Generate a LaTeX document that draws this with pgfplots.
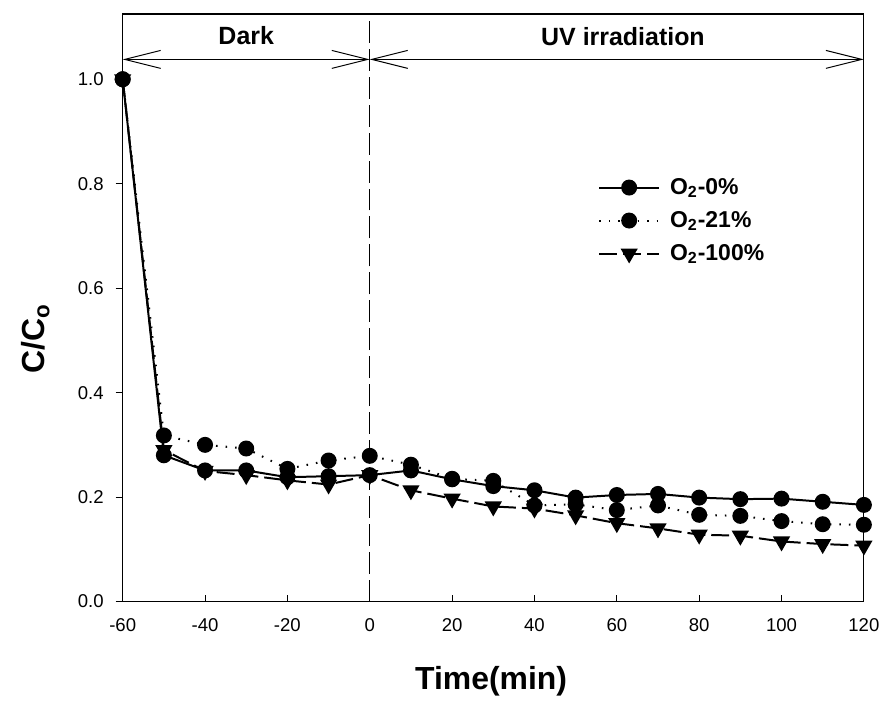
\documentclass[border=0pt]{standalone}
\usepackage{pgfplots}
\pgfplotsset{compat=1.18}
\usepackage{fontspec}
\setmainfont{Liberation Sans}
\usetikzlibrary{arrows.meta}

\pgfplotstableread{
t     c
-60   1.000
-50   0.280
-40   0.251
-30   0.251
-20   0.238
-10   0.240
0     0.242
10    0.251
20    0.234
30    0.221
40    0.213
50    0.199
60    0.204
70    0.206
80    0.199
90    0.196
100   0.197
110   0.191
120   0.185
}\oxzero

\pgfplotstableread{
t     c
-60   1.000
-50   0.318
-40   0.300
-30   0.293
-20   0.254
-10   0.270
0     0.279
10    0.262
20    0.235
30    0.231
40    0.184
50    0.186
60    0.175
70    0.184
80    0.166
90    0.164
100   0.154
110   0.148
120   0.147
}\oxtwentyone

\pgfplotstableread{
t     c
-60   1.000
-50   0.290
-40   0.250
-30   0.242
-20   0.232
-10   0.224
0     0.242
10    0.213
20    0.197
30    0.182
40    0.178
50    0.165
60    0.150
70    0.140
80    0.128
90    0.126
100   0.115
110   0.110
120   0.107
}\oxhundred

\begin{document}
\begin{tikzpicture}
\begin{axis}[
  scale only axis,
  width=371.5pt, height=294.5pt,
  xmin=-60, xmax=120,
  ymin=0, ymax=1.125,
  xtick={-60,-40,-20,0,20,40,60,80,100,120},
  ytick={0,0.2,0.4,0.6,0.8,1.0},
  yticklabel style={/pgf/number format/fixed, /pgf/number format/precision=1, /pgf/number format/fixed zerofill, xshift=-2.5pt},
  xticklabel style={yshift=-5pt},
  /pgf/number format/assume math mode=true,
  ticklabel style={font=\fontsize{9.3}{11}\selectfont},
  xtick pos=bottom, ytick pos=left,
  xtick align=inside, ytick align=outside,
  major tick length=3.5pt,
  axis line style={line width=0.6pt},
  every tick/.style={black, line width=0.5pt},
  xlabel={\textbf{Time(min)}},
  ylabel={\textbf{C/C\textsubscript{o}}},
  label style={font=\fontsize{16}{18}\selectfont},
  xlabel style={at={(axis description cs:0.497,-0.136)}, anchor=center},
  ylabel style={at={(axis description cs:-0.118,0.447)}, anchor=center},
  legend style={at={(0.633,0.735)}, anchor=north west, draw=none, fill=none,
    font=\fontsize{11.5}{13}\selectfont\bfseries, row sep=3pt},
  legend cell align=left,
  legend image code/.code={
    \draw[mark repeat=2, mark phase=2, #1] plot coordinates {(0pt,0pt) (15pt,0pt) (30pt,0pt)};
  },
  every axis plot/.append style={black, line width=1pt},
]
\draw[line width=0.6pt, dash pattern=on 11pt off 3pt] (axis cs:0,0) -- (axis cs:0,1.125);
\draw[line width=0.5pt, {Straight Barb[length=18pt, width=9pt]}-{Straight Barb[length=18pt, width=9pt]}] (axis cs:-60,1.038) -- (axis cs:0,1.038);
\draw[line width=0.5pt, {Straight Barb[length=18pt, width=9pt]}-{Straight Barb[length=18pt, width=9pt]}] (axis cs:0,1.038) -- (axis cs:120,1.038);
\node[font=\fontsize{12.5}{14}\selectfont\bfseries] at (axis cs:-30,1.084) {Dark};
\node[font=\fontsize{12.5}{14}\selectfont\bfseries] at (axis cs:61.5,1.082) {UV irradiation};

\addplot[solid, mark=*, mark size=3.5pt, mark options={solid}] table[x=t, y=c] {\oxzero};
\addlegendentry{\hspace*{3pt}O\textsubscript{2}-0\%}
\addplot[dash pattern=on 0.8pt off 4pt, mark=*, mark size=3.5pt, mark options={solid}] table[x=t, y=c] {\oxtwentyone};
\addlegendentry{\hspace*{3pt}O\textsubscript{2}-21\%}
\addplot[dash pattern=on 9pt off 3pt, mark=triangle*, mark size=4pt, mark options={solid, rotate=180}] table[x=t, y=c] {\oxhundred};
\addlegendentry{\hspace*{3pt}O\textsubscript{2}-100\%}
\end{axis}
\path ([xshift=-61.5pt, yshift=-50pt]current axis.south west) ([xshift=10pt, yshift=7pt]current axis.north east);
\end{tikzpicture}
\end{document}
